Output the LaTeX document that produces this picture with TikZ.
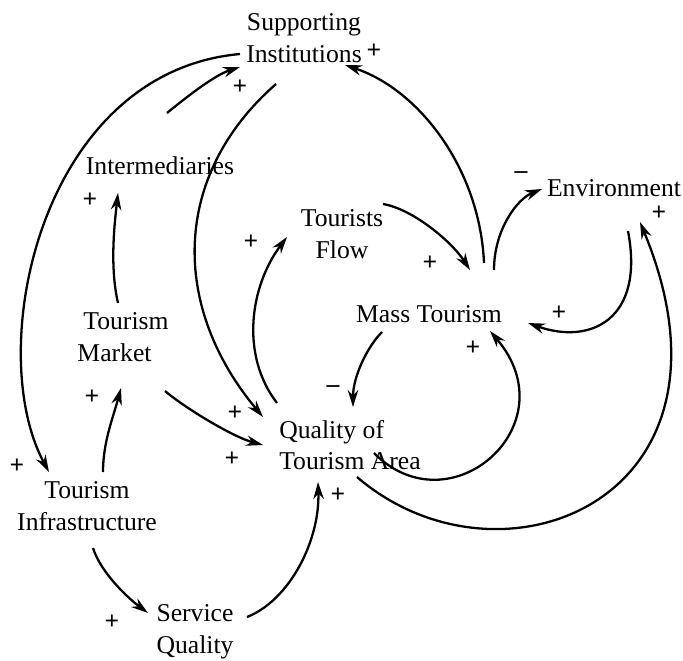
\documentclass[tikz,border=0pt]{standalone}
\usepackage{fontspec}
\setmainfont{Liberation Serif}
\usetikzlibrary{arrows.meta,calc}
\tikzset{
  var/.style={inner sep=0pt, align=center, font=\fontsize{14.6}{18}\selectfont},
  sign/.style={inner sep=0pt, font=\fontsize{14.6}{18}\selectfont\bfseries},
  link/.style={line width=1.3pt, -{Stealth[length=3.4mm,width=2.1mm]}}
}
\begin{document}
\begin{tikzpicture}[x=0.02cm,y=-0.02cm]
\useasboundingbox (0,0) rectangle (683,660);
\node[var] (si) at (304,38) {Supporting\\Institutions};
\node[var] (imd) at (160,166) {Intermediaries};
\node[var] (tf) at (342,234) {Tourists\\Flow};
\node[var] (env) at (614,188) {Environment};
\node[var] (mt) at (429,314) {Mass Tourism};
\node[var,align=left] (tm) at (123,337) {\hspace*{3.4pt}Tourism\\Market};
\node[var,align=left] (qa) at (350,445) {Quality of\\Tourism Area};
\node[var] (ti) at (87,506) {Tourism\\Infrastructure};
\node[var] (sq) at (195,632) {Service\\Quality};
\draw[link] ($(ti)+(16,-34)$) .. controls +(0,-30) and +(-8,30) .. ($(tm)+(-2,51)$);
\draw[link] ($(tm)+(-5,-34)$) .. controls +(-8,-35) and +(-4,35) .. ($(imd)+(-42,27)$);
\draw[link] ($(imd)+(7,-53)$) .. controls +(22,-18) and +(-25,8) .. ($(si)+(-64,29)$);
\draw[link] ($(si)+(-64,16)$) .. controls +(-200,18) and +(-66,-122) .. ($(ti)+(-38,-34)$);
\draw[link] ($(si)+(-28,46)$) .. controls +(-105,92) and +(-92,-110) .. ($(qa)+(-87,-28)$);
\draw[link] ($(qa)+(-73,-42)$) .. controls +(-37,-48) and +(-37,49) .. ($(tf)+(-55,3)$);
\draw[link] ($(tm)+(42,54)$) .. controls +(20,17) and +(-30,-8) .. ($(qa)+(-87,0)$);
\draw[link] ($(sq)+(52,-15)$) .. controls +(43,-17) and +(2,58) .. ($(qa)+(-32,37)$);
\draw[link] ($(ti)+(6,42)$) .. controls +(8,25) and +(-20,-15) .. ($(sq)+(-47,-19)$);
\draw[link] ($(tf)+(41,-30)$) .. controls +(30,5) and +(-18,-28) .. ($(mt)+(41,-44)$);
\draw[link] ($(mt)+(55,-51)$) .. controls +(-4,-93) and +(75,25) .. ($(si)+(41,27)$);
\draw[link] ($(mt)+(65,-44)$) .. controls +(0,-40) and +(-25,10) .. ($(env)+(-72,1)$);
\draw[link] ($(env)+(14,43)$) .. controls +(17,89) and +(62,22) .. ($(mt)+(99,9)$);
\draw[link] ($(mt)+(-47,18)$) .. controls +(-15,15) and +(0,-30) .. ($(qa)+(3,-38)$);
\draw[link] ($(qa)+(24,8)$) .. controls +(76,77) and +(80,94) .. ($(mt)+(61,17)$);
\draw[link] ($(qa)+(7,32)$) .. controls +(143,123) and +(115,278) .. ($(env)+(26,34)$);
\node[sign] (s1) at (374,51) {+};
\node[sign] (s2) at (240,87) {+};
\node[sign] (s3) at (90,200) {+};
\node[sign] (s4) at (251,242) {+};
\node[sign] (s5) at (430,263) {+};
\node[sign] (s6) at (521,175) {–};
\node[sign] (s7) at (659,213) {+};
\node[sign] (s8) at (559,313) {+};
\node[sign] (s9) at (473,348) {+};
\node[sign] (s10) at (333,389) {–};
\node[sign] (s11) at (92,397) {+};
\node[sign] (s12) at (235,413) {+};
\node[sign] (s13) at (232,459) {+};
\node[sign] (s14) at (17,466) {+};
\node[sign] (s15) at (338,495) {+};
\node[sign] (s16) at (112,622) {+};
\end{tikzpicture}
\end{document}
